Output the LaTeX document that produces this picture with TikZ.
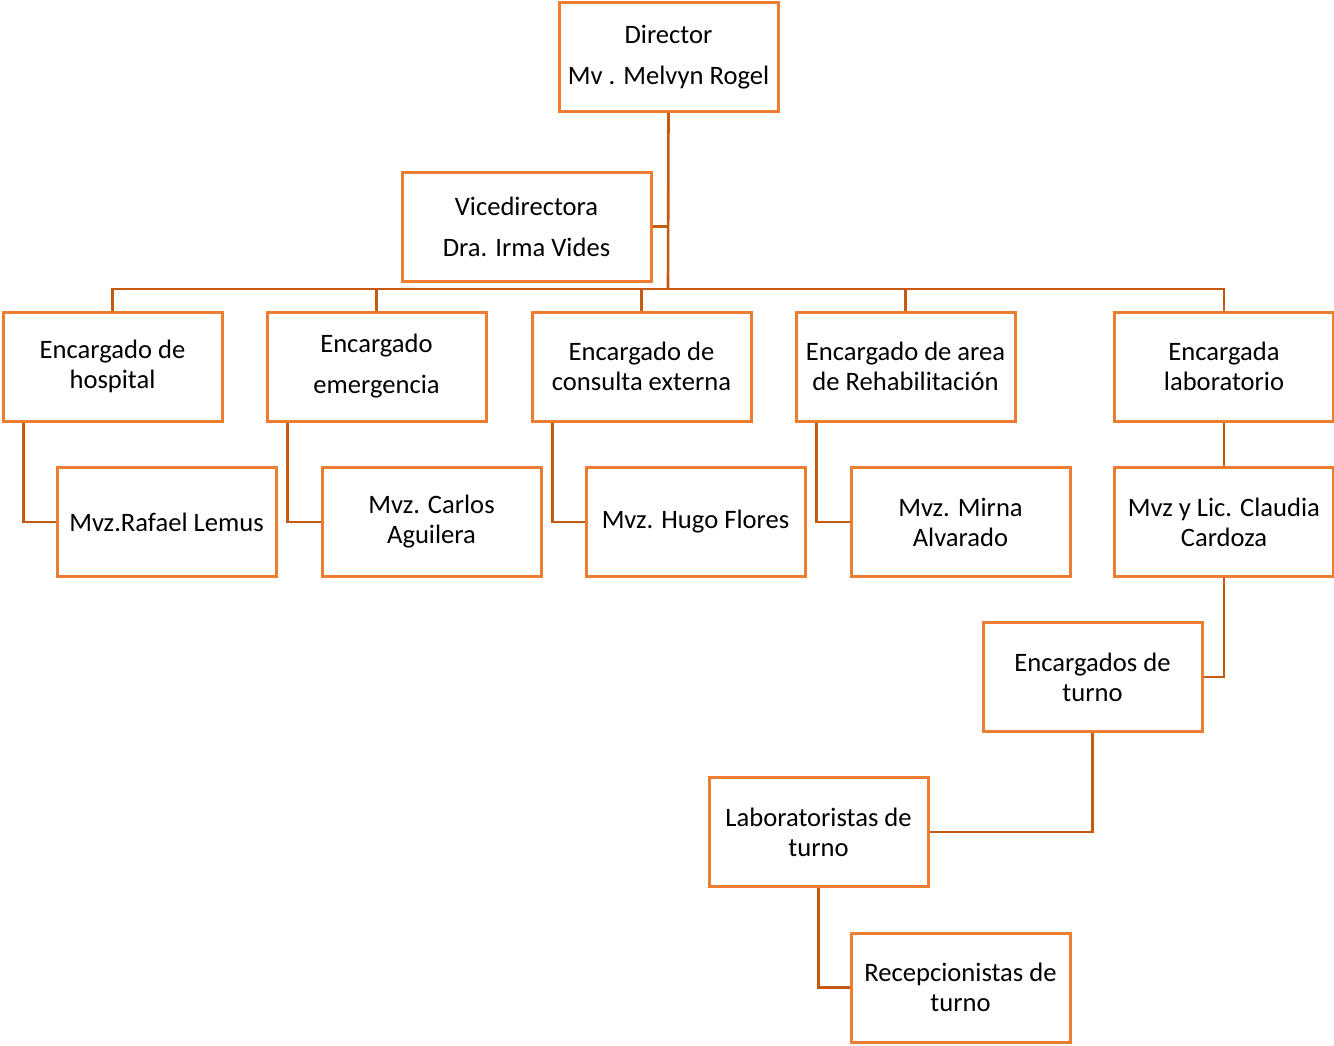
\documentclass[tikz,border=0pt]{standalone}
\usepackage{fontspec}
\setmainfont{Carlito}
\usepackage{tikz}

\definecolor{cajaorange}{HTML}{ED7D31}
\definecolor{lineaorange}{HTML}{C55A11}

\tikzset{
  cargo/.style={draw=cajaorange,line width=1.5pt,fill=white,minimum width=109.5pt,
    minimum height=54.5pt,align=center,inner sep=1pt,
    font=\fontsize{13.3}{15}\selectfont},
  cargoalto/.style={cargo,font=\fontsize{13.3}{20.5}\selectfont},
  linea/.style={draw=lineaorange,line width=1.3pt}
}

\begin{document}
\begin{tikzpicture}[x=0.5pt,y=-0.5pt]
\useasboundingbox (0,0) rectangle (1334,1045);
\coordinate (bus) at (668,289);
\node[cargoalto] (dir) at (668.5,57) {Director\\Mv . Melvyn Rogel};
\node[cargoalto,minimum width=124.5pt] (vice) at (526.5,226.5) {Vicedirectora\\Dra. Irma Vides};
\node[cargo] (hosp) at (112.5,366.5) {Encargado de\\hospital};
\node[cargoalto] (emerg) at (376.5,366.5) {Encargado\\emergencia};
\node[cargo] (consulta) at (641.5,366.5) {Encargado de\\consulta externa};
\node[cargo] (rehab) at (905.5,366.5) {Encargado de area\\de Rehabilitación};
\node[cargo] (lab) at (1224,366.5) {Encargada\\laboratorio};
\node[cargo] (rafael) at (166.5,522) {Mvz.Rafael Lemus};
\node[cargo] (carlos) at (431.5,522) {Mvz. Carlos\\Aguilera};
\node[cargo] (hugo) at (695.5,522) {Mvz. Hugo Flores};
\node[cargo] (mirna) at (960.5,522) {Mvz. Mirna\\Alvarado};
\node[cargo] (claudia) at (1224,522) {Mvz y Lic. Claudia\\Cardoza};
\node[cargo] (turno) at (1092.5,677) {Encargados de\\turno};
\node[cargo] (labturno) at (818.5,832) {Laboratoristas de\\turno};
\node[cargo] (recep) at (960.5,987.5) {Recepcionistas de\\turno};

% lineas
\draw[linea] (dir.south) -- (bus);
\draw[linea] (vice.east) -- (vice.east -| bus);
\draw[linea] (hosp.north) -- (hosp.north |- bus) -- (lab.north |- bus) -- (lab.north);
\draw[linea] (emerg.north) -- (emerg.north |- bus);
\draw[linea] (consulta.north) -- (consulta.north |- bus);
\draw[linea] (rehab.north) -- (rehab.north |- bus);
\draw[linea] ([xshift=11pt]hosp.south west) |- (rafael.west);
\draw[linea] ([xshift=11pt]emerg.south west) |- (carlos.west);
\draw[linea] ([xshift=11pt]consulta.south west) |- (hugo.west);
\draw[linea] ([xshift=11pt]rehab.south west) |- (mirna.west);
\draw[linea] (lab.south) -- (claudia.north);
\draw[linea] (claudia.south) |- (turno.east);
\draw[linea] (turno.south) |- (labturno.east);
\draw[linea] (labturno.south) |- (recep.west);
\end{tikzpicture}
\end{document}
